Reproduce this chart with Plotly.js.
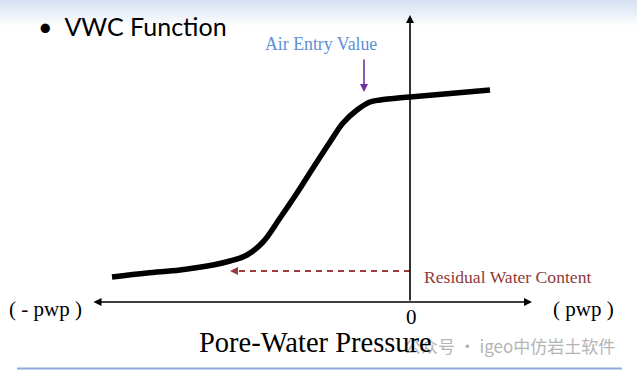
<!DOCTYPE html>
<html>
<head>
<meta charset="utf-8">
<script src="https://cdn.plot.ly/plotly-3.0.1.min.js"></script>
<style>html,body{margin:0;padding:0;background:#fff;}#chart{width:637px;height:370px;}</style>
</head>
<body>
<div id="chart"></div>
<script>
// Pore-water pressure (x, arbitrary units, 0 = zero pressure) and volumetric water content (y, arbitrary units)
const pwp = [-298, -263, -230, -197, -180, -163, -147, -130, -113, -97, -80, -67, -53, -40, -30, 0, 80];
const vwc = [25, 29, 32, 37, 41, 47, 60, 84, 109, 134, 160, 179, 192, 200, 202, 205, 212];
const residualLevel = 31;     // residual water content level
const residualStartX = -180;  // where the dashed arrow ends
const airEntryX = -46;        // air entry value location
const axisLeft = -318, axisRight = 122, axisTop = 287;

const traces = [
  {x: [0, residualStartX + 6], y: [residualLevel, residualLevel], mode: 'lines',
   line: {color: '#9b3b3b', width: 2, dash: '6px,5px'}, hoverinfo: 'skip'},
  {x: pwp, y: vwc, mode: 'lines', line: {color: '#000', width: 5.5, shape: 'spline', smoothing: 1}, hoverinfo: 'skip'}
];

// slide header gradient
const shapes = [];
const n = 14;
for (let i = 0; i < n; i++) {
  const t = i / (n - 1);
  const r = Math.round(214 + (255 - 214) * t), g = Math.round(226 + (255 - 226) * t), b = Math.round(243 + (255 - 243) * t);
  shapes.push({type: 'rect', xref: 'paper', yref: 'paper', x0: 0, x1: 1,
    y1: 1 - i * 2 / 370, y0: 1 - (i + 1) * 2 / 370, line: {width: 0}, fillcolor: `rgb(${r},${g},${b})`, layer: 'below'});
}
shapes.push({type: 'line', xref: 'paper', yref: 'paper', x0: 17 / 637, x1: 622 / 637, y0: 1.5 / 370, y1: 1.5 / 370,
  line: {color: '#8eaadb', width: 2}});

const serif = 'Liberation Serif, Times New Roman, serif';
const annotations = [
  // axes
  {x: axisRight, y: 0, ax: axisLeft, ay: 0, xref: 'x', yref: 'y', axref: 'x', ayref: 'y', text: '',
   showarrow: true, arrowhead: 2, arrowside: 'end+start', arrowsize: 1, arrowwidth: 1.6, arrowcolor: '#000'},
  {x: 0, y: axisTop, ax: 0, ay: 0, xref: 'x', yref: 'y', axref: 'x', ayref: 'y', text: '',
   showarrow: true, arrowhead: 2, arrowsize: 1, arrowwidth: 1.6, arrowcolor: '#000'},
  // air entry arrow
  {x: airEntryX, y: 210, ax: airEntryX, ay: 244, xref: 'x', yref: 'y', axref: 'x', ayref: 'y', text: '',
   showarrow: true, arrowhead: 2, arrowsize: 1, arrowwidth: 1.6, arrowcolor: '#7030a0'},
  // residual arrowhead
  {x: residualStartX, y: residualLevel, ax: residualStartX + 8, ay: residualLevel, xref: 'x', yref: 'y', axref: 'x', ayref: 'y', text: '',
   showarrow: true, arrowhead: 2, arrowsize: 1, arrowwidth: 1.6, arrowcolor: '#9b3b3b'},
  // texts
  {x: -89, y: 258, xref: 'x', yref: 'y', text: 'Air Entry Value', showarrow: false, xanchor: 'center', yanchor: 'middle',
   font: {family: serif, size: 17.8, color: '#5b8fd8'}},
  {x: 12, y: 25, xref: 'x', yref: 'y', text: 'Residual Water Content', showarrow: false, xanchor: 'left', yanchor: 'middle',
   font: {family: serif, size: 17.6, color: '#8e3a3a'}},
  {x: -403, y: -7, xref: 'x', yref: 'y', text: '( - pwp )', showarrow: false, xanchor: 'left', yanchor: 'middle',
   font: {family: serif, size: 21, color: '#000'}},
  {x: 141, y: -7, xref: 'x', yref: 'y', text: '( pwp )', showarrow: false, xanchor: 'left', yanchor: 'middle',
   font: {family: serif, size: 21, color: '#000'}},
  {x: 1, y: -15, xref: 'x', yref: 'y', text: '0', showarrow: false, xanchor: 'center', yanchor: 'middle',
   font: {family: serif, size: 21, color: '#000'}},
  {x: 617 / 637, y: 1 - 345 / 370, xref: 'paper', yref: 'paper', text: '公众号 · igeo中仿岩土软件', showarrow: false,
   xanchor: 'right', yanchor: 'middle', font: {family: 'Noto Sans CJK SC, sans-serif', size: 17, color: '#b4b4b4'}},
  {x: -95, y: -40, xref: 'x', yref: 'y', text: 'Pore-Water Pressure', showarrow: false, xanchor: 'center', yanchor: 'middle',
   font: {family: serif, size: 28.5, color: '#000'}},
  {x: 36 / 637, y: 1 - 26 / 370, xref: 'paper', yref: 'paper', text: '•  VWC Function', showarrow: false,
   xanchor: 'left', yanchor: 'middle', font: {family: 'Lato, Liberation Sans, sans-serif', size: 25, color: '#000'}}
];

const layout = {
  width: 637, height: 370,
  margin: {l: 0, r: 0, t: 0, b: 0},
  paper_bgcolor: '#fff', plot_bgcolor: 'rgba(0,0,0,0)',
  showlegend: false,
  xaxis: {range: [-410, 227], visible: false, fixedrange: true},
  yaxis: {range: [-68, 302], visible: false, fixedrange: true},
  shapes: shapes,
  annotations: annotations
};

Plotly.newPlot('chart', traces, layout, {staticPlot: true, displayModeBar: false});
</script>
</body>
</html>
